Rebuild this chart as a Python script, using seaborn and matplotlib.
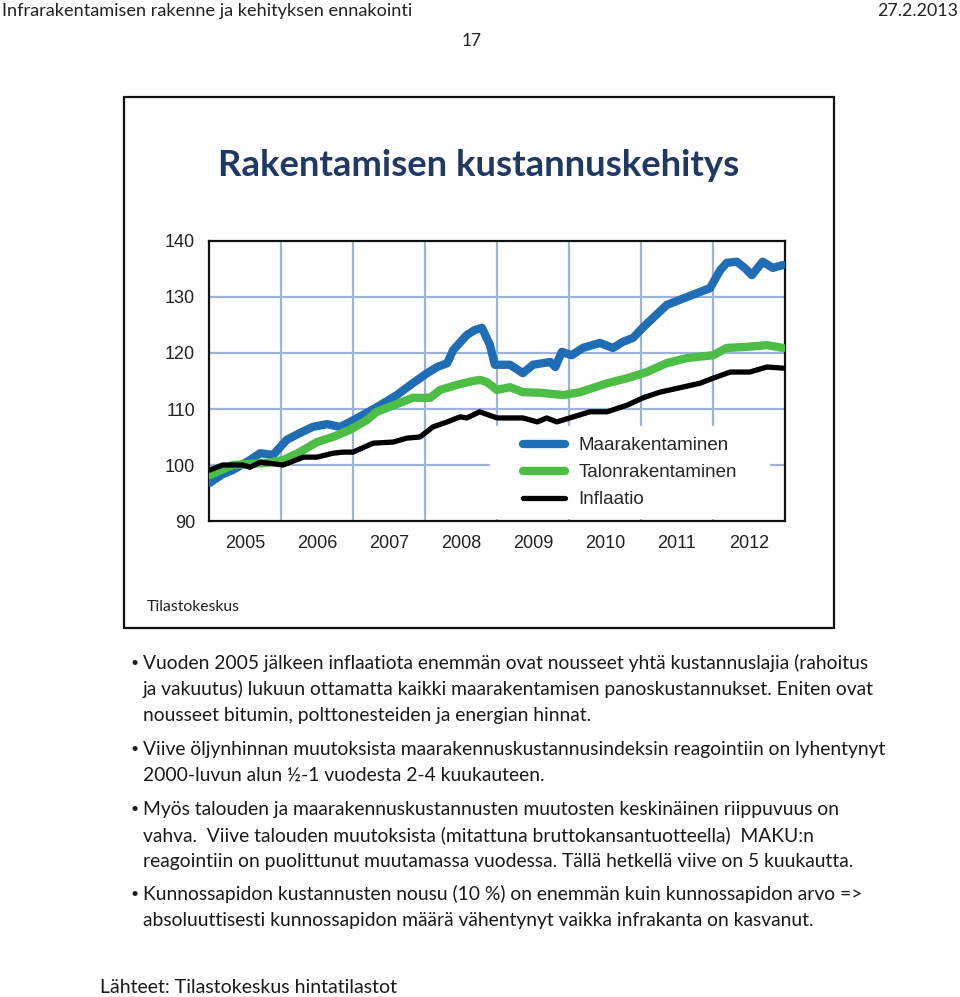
import numpy as np
import pandas as pd
import matplotlib
matplotlib.use("Agg")
import matplotlib.pyplot as plt
from matplotlib.patches import Rectangle
import seaborn as sns

# ---------------- data ----------------
maara_t = [2005.01, 2005.18, 2005.33, 2005.57, 2005.71, 2005.89, 2006.08, 2006.26, 2006.44, 2006.64,
           2006.82, 2006.96, 2007.19, 2007.38, 2007.61, 2007.83, 2008.03, 2008.17, 2008.31, 2008.39,
           2008.58, 2008.69, 2008.79, 2008.90, 2008.97, 2009.18, 2009.36, 2009.50, 2009.74, 2009.81,
           2009.90, 2010.04, 2010.19, 2010.43, 2010.61, 2010.75, 2010.89, 2011.03, 2011.17, 2011.36,
           2011.54, 2011.78, 2011.96, 2012.10, 2012.19, 2012.33, 2012.44, 2012.54, 2012.69, 2012.83,
           2012.97]
maara_v = [96.8, 98.3, 99.1, 100.9, 102.1, 101.8, 104.5, 105.7, 106.8, 107.3,
           106.8, 107.7, 109.3, 110.7, 112.5, 114.6, 116.4, 117.5, 118.2, 120.5,
           123.2, 124.1, 124.5, 121.5, 117.9, 117.9, 116.4, 117.9, 118.4, 117.5,
           120.2, 119.6, 120.9, 121.8, 120.9, 122.0, 122.7, 124.6, 126.3, 128.6,
           129.5, 130.7, 131.6, 134.8, 136.1, 136.3, 135.2, 133.9, 136.3, 135.2,
           135.7]

talo_t = [2005.01, 2005.33, 2005.57, 2005.81, 2006.03, 2006.26, 2006.50, 2006.72, 2006.96, 2007.19,
          2007.33, 2007.65, 2007.83, 2008.07, 2008.21, 2008.44, 2008.63, 2008.76, 2008.86, 2009.00,
          2009.18, 2009.36, 2009.60, 2009.92, 2010.15, 2010.53, 2010.81, 2011.08, 2011.36, 2011.64,
          2012.00, 2012.19, 2012.47, 2012.75, 2012.97]
talo_v = [98.2, 100.0, 100.2, 100.4, 100.9, 102.3, 104.1, 105.0, 106.3, 108.0,
          109.5, 111.1, 112.0, 112.0, 113.4, 114.3, 114.9, 115.2, 114.8, 113.4,
          113.9, 113.0, 112.9, 112.5, 113.0, 114.6, 115.5, 116.6, 118.2, 119.1,
          119.6, 120.9, 121.1, 121.4, 120.9]

infl_t = [2005.01, 2005.19, 2005.47, 2005.57, 2005.71, 2006.03, 2006.13, 2006.31, 2006.50, 2006.72,
          2006.86, 2007.00, 2007.28, 2007.56, 2007.75, 2007.93, 2008.11, 2008.31, 2008.49, 2008.58,
          2008.76, 2009.00, 2009.36, 2009.56, 2009.69, 2009.83, 2010.01, 2010.29, 2010.53, 2010.81,
          2011.03, 2011.26, 2011.54, 2011.82, 2012.00, 2012.24, 2012.51, 2012.75, 2012.97]
infl_v = [99.1, 100.0, 100.0, 99.6, 100.5, 100.0, 100.5, 101.4, 101.4, 102.1,
          102.3, 102.3, 103.9, 104.1, 104.8, 105.0, 106.8, 107.7, 108.6, 108.4,
          109.5, 108.4, 108.4, 107.7, 108.4, 107.7, 108.4, 109.5, 109.5, 110.7,
          112.0, 113.0, 113.8, 114.6, 115.5, 116.6, 116.6, 117.5, 117.3]

series_names = ["Maarakentaminen", "Talonrakentaminen", "Inflaatio"]
years = [2005, 2006, 2007, 2008, 2009, 2010, 2011, 2012]
y_ticks = [90, 100, 110, 120, 130, 140]

header_left = "Infrarakentamisen rakenne ja kehityksen ennakointi"
header_right = "27.2.2013"
page_no = "17"
chart_title = "Rakentamisen kustannuskehitys"
source_small = "Tilastokeskus"
body_lines = [
    "Vuoden 2005 jälkeen inflaatiota enemmän ovat nousseet yhtä kustannuslajia (rahoitus",
    "ja vakuutus) lukuun ottamatta kaikki maarakentamisen panoskustannukset. Eniten ovat",
    "nousseet bitumin, polttonesteiden ja energian hinnat.",
    "Viive öljynhinnan muutoksista maarakennuskustannusindeksin reagointiin on lyhentynyt",
    "2000-luvun alun ½-1 vuodesta 2-4 kuukauteen.",
    "Myös talouden ja maarakennuskustannusten muutosten keskinäinen riippuvuus on",
    "vahva.  Viive talouden muutoksista (mitattuna bruttokansantuotteella)  MAKU:n",
    "reagointiin on puolittunut muutamassa vuodessa. Tällä hetkellä viive on 5 kuukautta.",
    "Kunnossapidon kustannusten nousu (10 %) on enemmän kuin kunnossapidon arvo =>",
    "absoluuttisesti kunnossapidon määrä vähentynyt vaikka infrakanta on kasvanut.",
]
bullet_lines = [0, 3, 5, 8]
footer = "Lähteet: Tilastokeskus hintatilastot"

# ---------------- figure ----------------
W, H = 960, 997
sns.set_theme(style="white")
plt.rcParams["font.family"] = ["Lato", "DejaVu Sans"]

fig = plt.figure(figsize=(W / 100, H / 100), dpi=100)
fig.patch.set_facecolor("white")


def fx(px):
    return px / W


def fy(py):
    return 1 - py / H


# chart frame
fig.patches.append(Rectangle((fx(124), fy(628)), fx(834) - fx(124), fy(97) - fy(628),
                             transform=fig.transFigure, fill=False, edgecolor="#111111",
                             linewidth=1.6, zorder=0))

ax = fig.add_axes([fx(209), fy(521), fx(785) - fx(209), fy(241) - fy(521)])

df = pd.concat([
    pd.DataFrame({"t": maara_t, "v": maara_v, "sarja": series_names[0]}),
    pd.DataFrame({"t": talo_t, "v": talo_v, "sarja": series_names[1]}),
    pd.DataFrame({"t": infl_t, "v": infl_v, "sarja": series_names[2]}),
])
colors = {series_names[0]: "#1F6DB5", series_names[1]: "#4DBE45", series_names[2]: "#000000"}
widths = {series_names[0]: 6.0, series_names[1]: 6.0, series_names[2]: 3.8}
for name in series_names:
    sub = df[df["sarja"] == name]
    sns.lineplot(data=sub, x="t", y="v", ax=ax, color=colors[name], linewidth=widths[name],
                 label=name, zorder=3, solid_joinstyle="round", solid_capstyle="round",
                 estimator=None, sort=False)

ax.set_xlim(2005, 2013)
ax.set_ylim(90, 140)
ax.set_xlabel("")
ax.set_ylabel("")

# grid
ax.set_yticks(y_ticks)
ax.set_yticklabels([str(v) for v in y_ticks], family=["Liberation Sans"], fontsize=13, color="#222222")
ax.set_xticks([y + 0.5 for y in years])
ax.set_xticklabels([str(y) for y in years], family=["Liberation Sans"], fontsize=13, color="#222222")
ax.set_xticks(list(range(2005, 2014)), minor=True)
ax.tick_params(axis="x", which="major", length=0, pad=10)
ax.tick_params(axis="x", which="minor", length=5, width=1, direction="inout", color="#333333")
ax.tick_params(axis="y", which="major", length=5, width=1, direction="out", color="#333333", pad=5)
gridc = "#9DB4DA"
ax.grid(False)
for yv in y_ticks[1:-1]:
    ax.axhline(yv, color=gridc, linewidth=1.6, zorder=1)
for xv in range(2006, 2013):
    ax.axvline(xv, color=gridc, linewidth=1.6, zorder=1)
for s in ax.spines.values():
    s.set_color("#111111")
    s.set_linewidth(1.6)

# white legend background box
ax.add_patch(Rectangle((0.488, 0.008), 0.486, 0.33, transform=ax.transAxes,
                       facecolor="white", edgecolor="none", zorder=2))
leg = ax.legend(loc="upper left", bbox_to_anchor=(0.545, 0.300), frameon=False,
                prop={"family": "Liberation Sans", "size": 13.5}, handlelength=2.25,
                handletextpad=0.7, labelspacing=0.53, borderpad=0, borderaxespad=0)
for h in leg.get_lines():
    h.set_solid_capstyle("round")
leg.set_zorder(5)

# ---------------- page texts ----------------
texts_to_fit = []


def put(x, y, s, target_w=None, size=12, **kw):
    t = fig.text(fx(x), fy(y), s, fontsize=size, va="center", **kw)
    if target_w is not None:
        texts_to_fit.append((t, target_w))
    return t


put(2, 11, header_left, target_w=407, size=12, ha="left", color="#222222")
put(958, 11, header_right, target_w=80, size=12, ha="right", color="#222222")
put(472, 41, page_no, size=12.5, ha="center", color="#222222")
title = put(479, 165, chart_title, target_w=522, size=24, ha="center", color="#1F3864",
            fontweight="bold")
put(147, 607, source_small, target_w=93, size=11, ha="left", color="#222222")

line_y = [663, 689, 715, 749, 775, 809, 835, 861, 894, 920]
body_texts = []
for i, (s, yy) in enumerate(zip(body_lines, line_y)):
    body_texts.append(put(143, yy, s, size=13, ha="left", color="#1a1a1a"))
    if i in bullet_lines:
        put(130, yy, "•", size=10, ha="left", color="#1a1a1a")
foot = put(100, 987, footer, target_w=297, size=13, ha="left", color="#1a1a1a")

fig.canvas.draw()
r = fig.canvas.get_renderer()
for t, tw in texts_to_fit:
    w = t.get_window_extent(r).width
    t.set_fontsize(t.get_fontsize() * tw / w)
# body text: fit first line to its width, same size for all lines
w0 = body_texts[0].get_window_extent(r).width
bs = body_texts[0].get_fontsize() * 724 / w0
for t in body_texts:
    t.set_fontsize(bs)

fig.savefig("out.png", dpi=100, facecolor="white")
